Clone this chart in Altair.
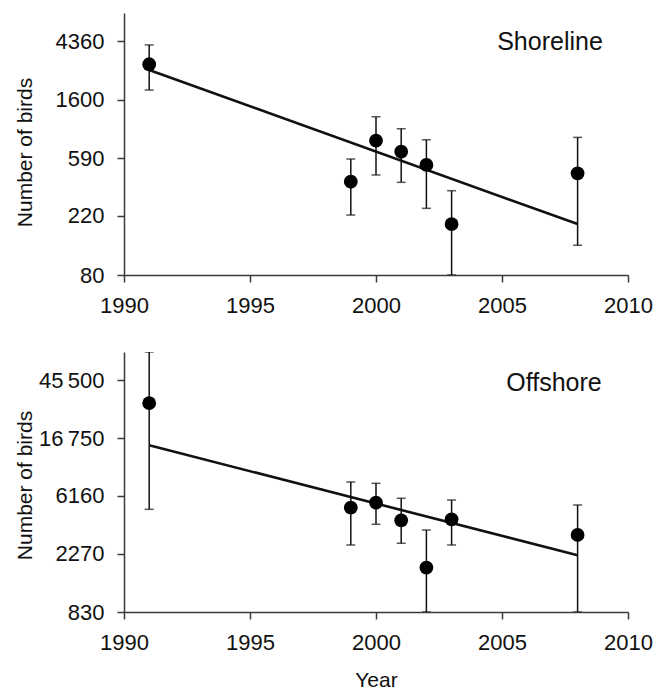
import altair as alt
import pandas as pd

# ---- data ----
years = [1991, 1999, 2000, 2001, 2002, 2003, 2008]

shore_mean = [2935, 394, 795, 658, 525, 191, 455]
shore_low = [1889, 223, 442, 390, 250, 80, 133]
shore_high = [4083, 581, 1197, 975, 808, 338, 841]

off_mean = [30550, 5040, 5490, 4045, 1787, 4115, 3138]
off_low = [4890, 2640, 3775, 2720, 830, 2640, 830]
off_high = [74000, 7840, 7660, 5915, 3420, 5740, 5270]

trend_years = [1991, 2008]
shore_trend = [2660, 191]
off_trend = [14770, 2210]

x_ticks = [1990, 1995, 2000, 2005, 2010]
shore_ticks = [80, 220, 590, 1600, 4360]
shore_tick_labels = ["80", "220", "590", "1600", "4360"]
off_ticks = [830, 2270, 6160, 16750, 45500]
off_tick_labels = ["830", "2270", "6160", "16\u2009750", "45\u2009500"]

shore_domain = [80, 7050]
off_domain = [830, 74000]

FONT = "Liberation Sans"
INK = "#111111"
AXC = "#3a3a3a"


def label_expr(values, labels):
    expr = "''"
    for v, l in zip(reversed(values), reversed(labels)):
        expr = f"datum.value == {v} ? '{l}' : ({expr})"
    return expr


def panel(mean, low, high, trend, ticks, tick_labels, domain, name,
          height, x_title, title_y, name_x, name_y):
    df = pd.DataFrame({"year": years, "mean": mean, "low": low, "high": high})
    tdf = pd.DataFrame({"year": trend_years, "trend": trend})
    ldf = pd.DataFrame({"label": [name]})

    xscale = alt.Scale(domain=[1990, 2010], nice=False, zero=False)
    yscale = alt.Scale(type="log", domain=domain, nice=False)

    if x_title:
        xaxis = alt.Axis(values=x_ticks, format="d", title="Year",
                         titlePadding=16, titleFontSize=21, labelFlush=False)
    else:
        xaxis = alt.Axis(values=x_ticks, format="d", title=None,
                         labelFlush=False)

    yaxis = alt.Axis(values=ticks, labelExpr=label_expr(ticks, tick_labels),
                     title="Number of birds", titleFontSize=21,
                     titleX=-93, titleY=title_y, titleBaseline="alphabetic",
                     labelPadding=13)

    def X():
        return alt.X("year:Q", scale=xscale, axis=xaxis,
                     title="Year" if x_title else None)

    def Y(field):
        return alt.Y(field, scale=yscale, axis=yaxis, title="Number of birds")

    bars = alt.Chart(df).mark_errorbar(
        ticks={"size": 9, "thickness": 1.5, "color": INK},
        thickness=1.5, color=INK, clip=True
    ).encode(x=X(), y=Y("low:Q"), y2="high:Q")

    line = alt.Chart(tdf).mark_line(color=INK, strokeWidth=2.6).encode(
        x=X(), y=Y("trend:Q"))

    pts = alt.Chart(df).mark_point(filled=True, shape="circle", size=190,
                                   color="#000000", opacity=1).encode(
        x=X(), y=Y("mean:Q"))

    txt = alt.Chart(ldf).mark_text(font=FONT, fontSize=25, color=INK,
                                   align="center", baseline="alphabetic").encode(
        text="label:N", x=alt.value(name_x), y=alt.value(name_y))

    return alt.layer(bars, line, pts, txt).properties(width=504, height=height)


top = panel(shore_mean, shore_low, shore_high, shore_trend, shore_ticks,
            shore_tick_labels, shore_domain, "Shoreline", 262, False, 139, 426, 37)
bottom = panel(off_mean, off_low, off_high, off_trend, off_ticks,
               off_tick_labels, off_domain, "Offshore", 260, True, 133, 430, 39)

chart = alt.vconcat(top, bottom, spacing=36).properties(
    padding={"left": 5, "top": 5, "right": 5, "bottom": 0}
).configure_view(stroke=None).configure_axis(
    grid=False,
    labelFont=FONT, titleFont=FONT,
    labelFontSize=22, labelColor=INK, titleColor=INK,
    titleFontWeight="normal",
    domainColor=AXC, tickColor=AXC, domainWidth=1.5, tickWidth=1.5,
    tickSize=7, labelPadding=13,
)

chart.save("out.html", embed_options={"renderer": "svg", "actions": False})
